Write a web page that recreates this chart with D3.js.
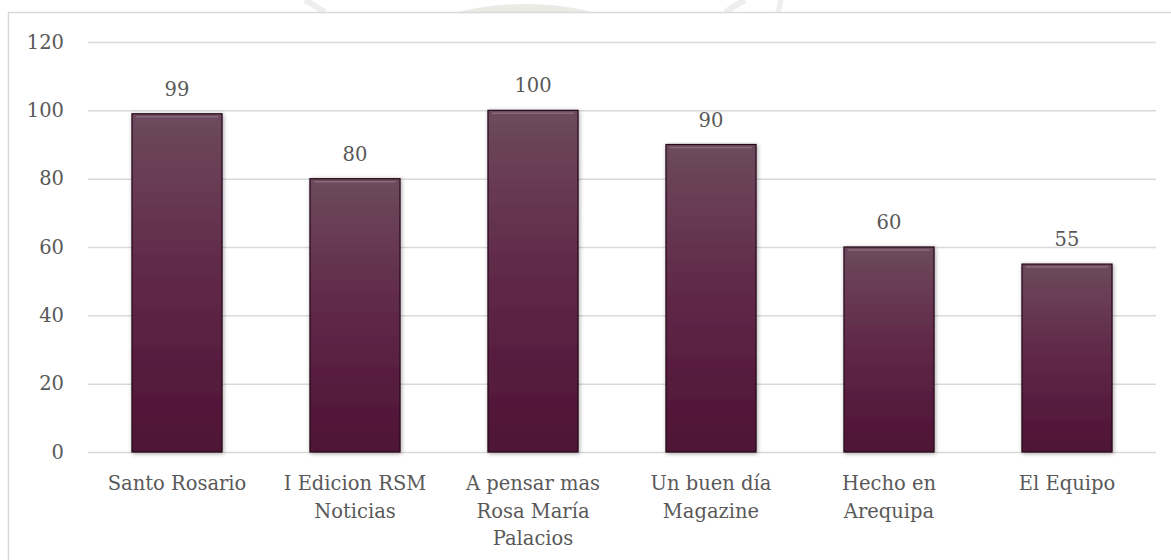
<!DOCTYPE html>
<html lang="es">
<head>
  <meta charset="UTF-8" />
  <title>Programas</title>
  <script src="https://d3js.org/d3.v7.min.js"></script>
  <style>
    body {
      margin: 0;
      background: #ffffff;
      font-family: "DejaVu Serif", serif;
    }
    svg {
      display: block;
    }
  </style>
</head>
<body>
<svg width="1171" height="560"></svg>

<script>
  // data
  const programas = [
    ["Santo Rosario"],
    ["I Edicion RSM", "Noticias"],
    ["A pensar mas", "Rosa María", "Palacios"],
    ["Un buen día", "Magazine"],
    ["Hecho en", "Arequipa"],
    ["El Equipo"]
  ];
  const valores = [99, 80, 100, 90, 60, 55];
  const ticks = [0, 20, 40, 60, 80, 100, 120];

  const svg = d3.select("svg");
  const plotLeft = 88, plotRight = 1156, plotTop = 42, plotBottom = 452;
  const textColor = "#595959";
  const fontSize = 19.5;

  // faint watermark peeking above the frame
  const wm = svg.append("g").attr("opacity", 0.3);
  wm.append("ellipse").attr("cx", 525).attr("cy", 40).attr("rx", 105).attr("ry", 36).attr("fill", "#b7bfae");
  wm.append("path").attr("d", "M305,0 L325,12").attr("stroke", "#c8c8c8").attr("stroke-width", 6);
  wm.append("path").attr("d", "M725,12 L745,0").attr("stroke", "#c8c8c8").attr("stroke-width", 6);
  wm.append("path").attr("d", "M778,12 L781,0").attr("stroke", "#c8c8c8").attr("stroke-width", 5);

  // chart frame
  svg.append("rect")
    .attr("x", 8.5).attr("y", 12.5)
    .attr("width", 1170).attr("height", 560)
    .attr("fill", "#ffffff")
    .attr("stroke", "#d9d9d9")
    .attr("stroke-width", 1.5);

  const defs = svg.append("defs");
  const grad = defs.append("linearGradient")
    .attr("id", "barGrad").attr("x1", 0).attr("y1", 0).attr("x2", 0).attr("y2", 1);
  grad.append("stop").attr("offset", "0%").attr("stop-color", "#6d4a5c");
  grad.append("stop").attr("offset", "45%").attr("stop-color", "#612a49");
  grad.append("stop").attr("offset", "100%").attr("stop-color", "#4e1235");

  const shadow = defs.append("filter").attr("id", "shadow")
    .attr("x", "-20%").attr("y", "-10%").attr("width", "140%").attr("height", "120%");
  shadow.append("feDropShadow")
    .attr("dx", 1).attr("dy", 1).attr("stdDeviation", 2)
    .attr("flood-color", "#000").attr("flood-opacity", 0.35);

  const x = d3.scaleBand()
    .domain(d3.range(valores.length))
    .range([plotLeft, plotRight])
    .paddingInner(0.494)
    .paddingOuter(0.247);

  const y = d3.scaleLinear().domain([0, 120]).range([plotBottom, plotTop]);

  // gridlines + y labels
  const yAxis = d3.axisLeft(y)
    .tickValues(ticks)
    .tickSize(-(plotRight - plotLeft))
    .tickPadding(24);
  const ga = svg.append("g")
    .attr("transform", `translate(${plotLeft},0)`)
    .call(yAxis);
  ga.select(".domain").remove();
  ga.selectAll(".tick line").attr("stroke", "#d9d9d9").attr("stroke-width", 1.5);
  ga.selectAll(".tick text")
    .attr("fill", textColor)
    .style("font-family", "DejaVu Serif, serif")
    .style("font-size", fontSize + "px");

  // bars
  const bars = svg.append("g").selectAll("g")
    .data(valores)
    .join("g");

  bars.append("rect")
    .attr("x", (d, i) => x(i))
    .attr("y", d => y(d))
    .attr("width", x.bandwidth())
    .attr("height", d => y(0) - y(d))
    .attr("fill", "url(#barGrad)")
    .attr("stroke", "#250818")
    .attr("stroke-width", 1.2)
    .attr("filter", "url(#shadow)");

  // bevel highlight on top edge
  bars.append("line")
    .attr("x1", (d, i) => x(i) + 4)
    .attr("x2", (d, i) => x(i) + x.bandwidth() - 4)
    .attr("y1", d => y(d) + 3)
    .attr("y2", d => y(d) + 3)
    .attr("stroke", "#8a6a7a")
    .attr("stroke-width", 1.5);

  // value labels
  bars.append("text")
    .attr("x", (d, i) => x(i) + x.bandwidth() / 2)
    .attr("y", d => y(d) - 18)
    .attr("text-anchor", "middle")
    .attr("fill", textColor)
    .style("font-size", fontSize + "px")
    .text(d => d);

  // category labels
  const cats = svg.append("g").selectAll("text")
    .data(programas)
    .join("text")
    .attr("text-anchor", "middle")
    .attr("fill", textColor)
    .style("font-size", fontSize + "px");
  cats.each(function (lines, i) {
    d3.select(this).selectAll("tspan")
      .data(lines)
      .join("tspan")
      .attr("x", x(i) + x.bandwidth() / 2)
      .attr("y", (l, j) => 490 + j * 27.5)
      .text(l => l);
  });
</script>
</body>
</html>
